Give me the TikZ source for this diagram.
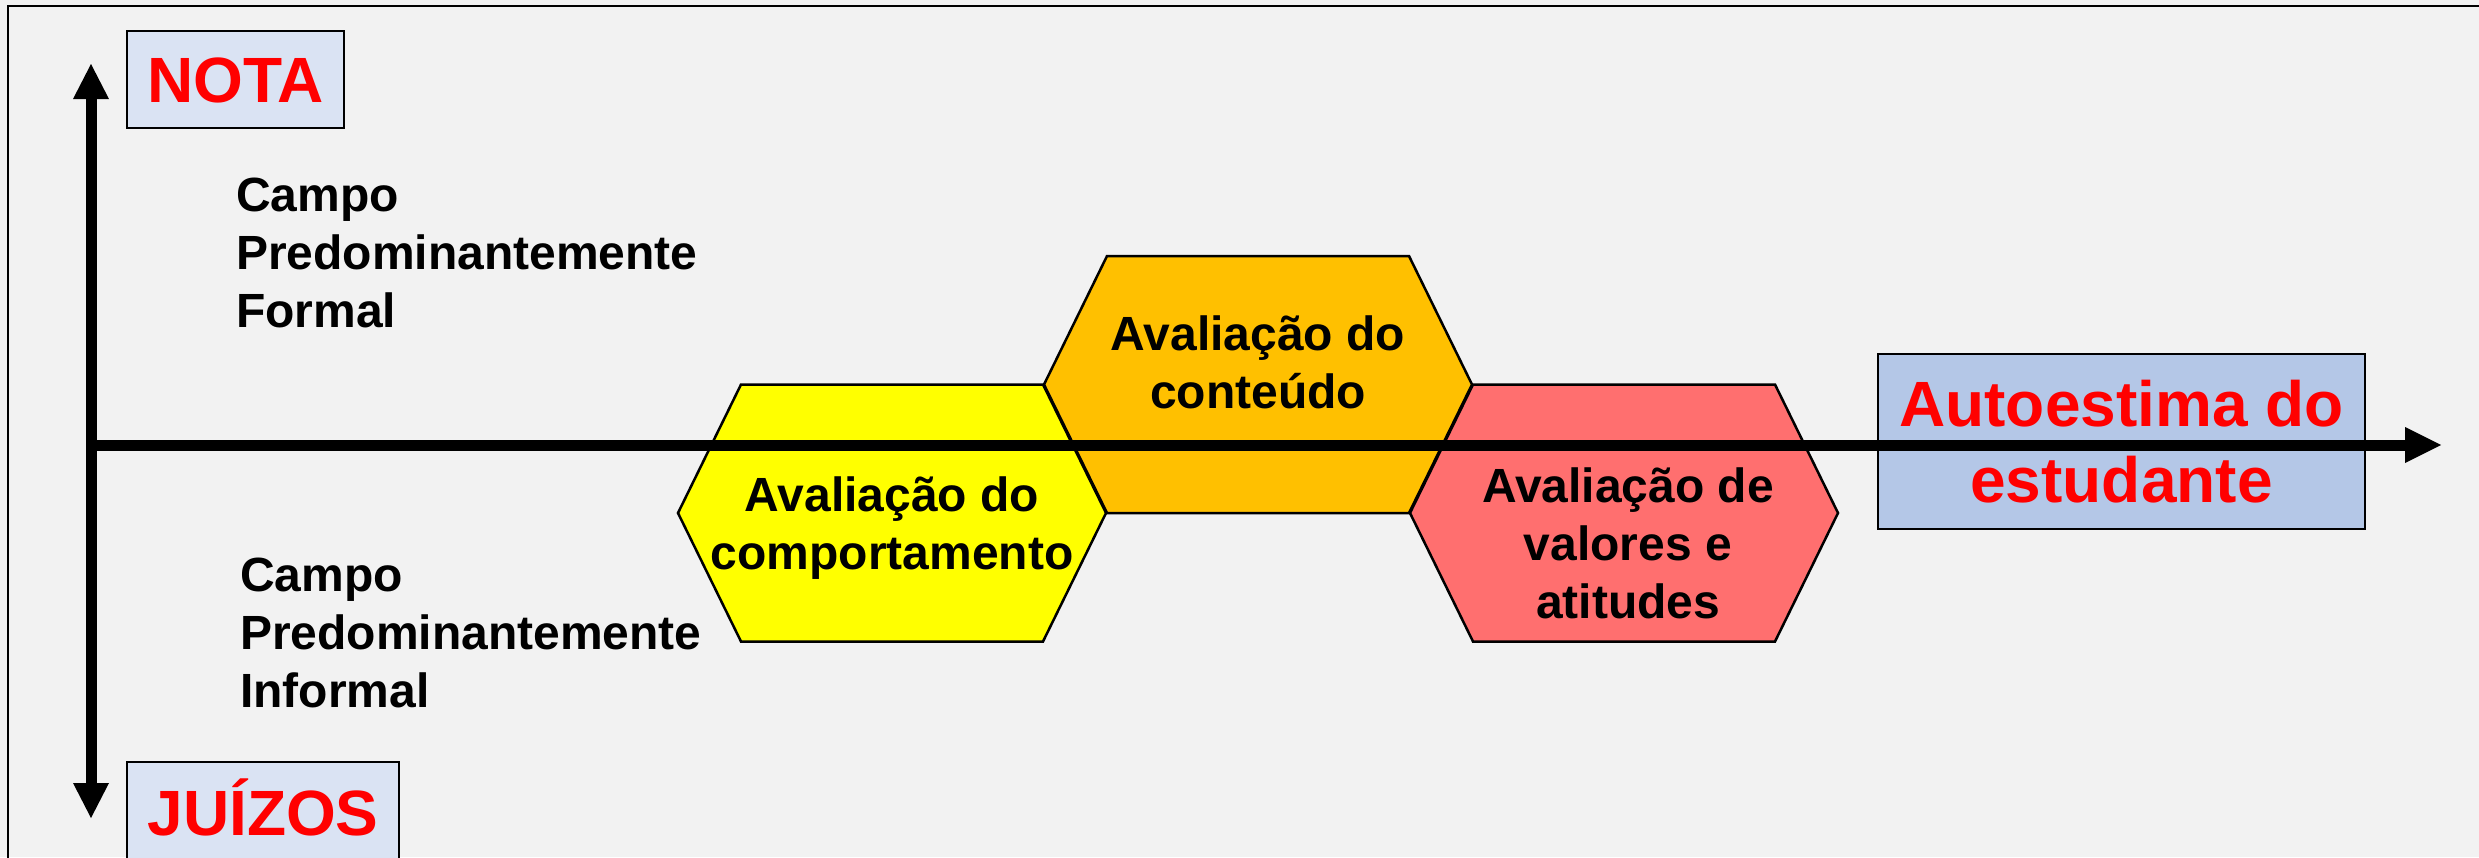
\documentclass[tikz,border=0pt]{standalone}
\usepackage{fontspec}
\setmainfont{Liberation Sans}
\usepackage{tikz}
\usetikzlibrary{arrows.meta, positioning}
\definecolor{panelgray}{HTML}{F2F2F2}
\definecolor{labelblue}{HTML}{DAE3F3}
\definecolor{goalblue}{HTML}{B4C7E7}
\definecolor{hexyellow}{HTML}{FFFF00}
\definecolor{hexorange}{HTML}{FFC000}
\definecolor{hexred}{HTML}{FF6F6F}
\newcommand{\hexcell}[3]{\draw[cell,fill=#1,shift={(#2,#3)}] (-214,0) -- (-151,-128.5) -- (151,-128.5) -- (214,0) -- (151,128.5) -- (-151,128.5) -- cycle;}

\begin{document}
\begin{tikzpicture}[x=1pt,y=-1pt,
	axis/.style={line width=11pt},
	cell/.style={line width=2.5pt,line join=miter},
	bigText/.style={font=\fontsize{64}{76}\selectfont\bfseries,text=red},
	smallText/.style={font=\fontsize{48}{58}\selectfont\bfseries},
	labelBox/.style={draw,line width=2pt,inner sep=0pt}]
	\useasboundingbox (0,0) rectangle (2479,857);
	
	% Background and frame
	\fill[panelgray] (0,0) rectangle (2479,857);
	\begin{scope}
		\clip (0,0) rectangle (2479,857);
		\draw[line width=2.5pt] (8,6) rectangle (2500,880);
	\end{scope}
	
	% Hexagons
	\hexcell{hexyellow}{892}{513}
	\hexcell{hexorange}{1258}{384.5}
	\hexcell{hexred}{1624}{513}
	
	\node (behaviour) at (892,528) [smallText,align=center] {Avaliação do\\comportamento};
	\node (content) at (1258,362) [smallText,align=center] {Avaliação do\\conteúdo};
	\node (values) at (1628,543) [smallText,align=center] {Avaliação de\\valores e\\atitudes};
	
	% Fields
	\node (formalLabel) at (236,253) [smallText,align=left,anchor=west,inner sep=0pt] {Campo\\Predominantemente\\Formal};
	\node (informalLabel) at (240,633) [smallText,align=left,anchor=west,inner sep=0pt] {Campo\\Predominantemente\\Informal};
	
	% Goal
	\node (selfEsteem) at (2121.5,441.5) [labelBox,fill=goalblue,minimum width=487pt,minimum height=175pt,bigText,align=center] {Autoestima do\\estudante};
	
	% Ends of the vertical axis
	\node (nota) at (235.5,79.5) [labelBox,fill=labelblue,minimum width=217pt,minimum height=97pt,bigText,text height=46pt,text depth=0pt] {NOTA};
	\node (juizos) at (263,812) [labelBox,fill=labelblue,minimum width=272pt,minimum height=100pt,bigText,text height=46pt,text depth=0pt] {JUÍZOS};
	
	% Axes
	\coordinate (origin) at (91,445);
	\coordinate (yTop) at (91,64);
	\coordinate (yBottom) at (91,818);
	\coordinate (xEnd) at (2441,445);
	\draw[axis,{Triangle[length=35pt,width=36pt,line width=0pt]}-{Triangle[length=35pt,width=36pt,line width=0pt]}] (yTop) -- (yBottom);
	\draw[axis,-{Triangle[length=36pt,width=36pt,line width=0pt]}] (origin) -- (xEnd);
\end{tikzpicture}
\end{document}
